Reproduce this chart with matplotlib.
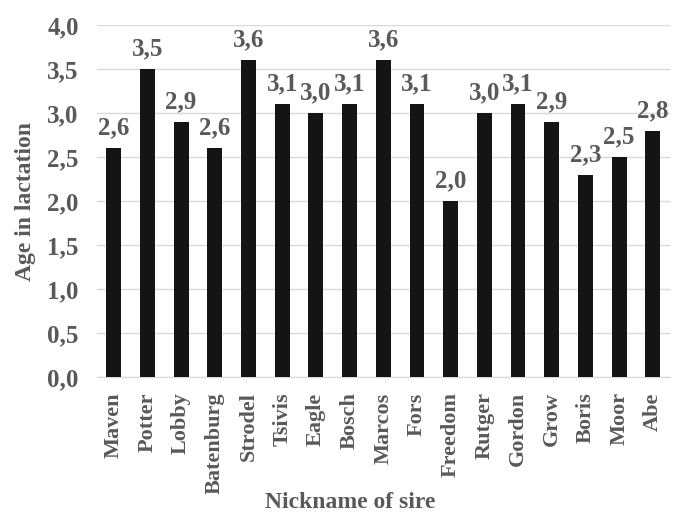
import matplotlib.pyplot as plt
from matplotlib.ticker import FuncFormatter

categories = ["Maven", "Potter", "Lobby", "Batenburg", "Strodel", "Tsivis", "Eagle", "Bosch",
              "Marcos", "Fors", "Freedom", "Rutger", "Gordon", "Grow", "Boris", "Moor", "Abe"]
values = [2.6, 3.5, 2.9, 2.6, 3.6, 3.1, 3.0, 3.1, 3.6, 3.1, 2.0, 3.0, 3.1, 2.9, 2.3, 2.5, 2.8]

plt.rcParams['font.family'] = ['Liberation Serif', 'DejaVu Serif']
txt = '#595959'
fs = 18

fig = plt.figure(figsize=(6.82, 5.13), dpi=100)
ax = fig.add_axes([0.142, 0.265, 0.840, 0.686])
x = range(len(categories))
bars = ax.bar(x, values, width=0.44, color='#141414', zorder=3)
ax.set_xlim(-0.5, len(categories) - 0.5)
ax.set_ylim(0, 4.0)
ax.set_yticks([i * 0.5 for i in range(9)])
ax.yaxis.set_major_formatter(FuncFormatter(lambda v, p: f"{v:.1f}".replace('.', ',')))
ax.grid(axis='y', color='#d9d9d9', linewidth=1, zorder=0)
for s in ['top', 'right', 'left']:
    ax.spines[s].set_visible(False)
ax.spines['bottom'].set_color('#d9d9d9')
ax.tick_params(axis='both', length=0, colors=txt)
ax.tick_params(axis='y', pad=13, labelsize=fs)
ax.tick_params(axis='x', pad=11, labelsize=16)
ax.set_xticks(list(x))
ax.set_xticklabels(categories, rotation=90, fontweight='bold')
for lab in ax.get_yticklabels():
    lab.set_fontweight('bold')
for xi, v in zip(x, values):
    ax.text(xi, v + 0.1, f"{v:.1f}".replace('.', ','), ha='center', va='bottom',
            fontsize=fs, fontweight='bold', color=txt)
ax.set_ylabel('Age in lactation', fontsize=17, fontweight='bold', color=txt, labelpad=8)
fig.text(350 / 682, 1 - 503 / 513, 'Nickname of sire', fontsize=17, fontweight='bold',
         color=txt, ha='center', va='center')
fig.savefig('out.png', dpi=100)
